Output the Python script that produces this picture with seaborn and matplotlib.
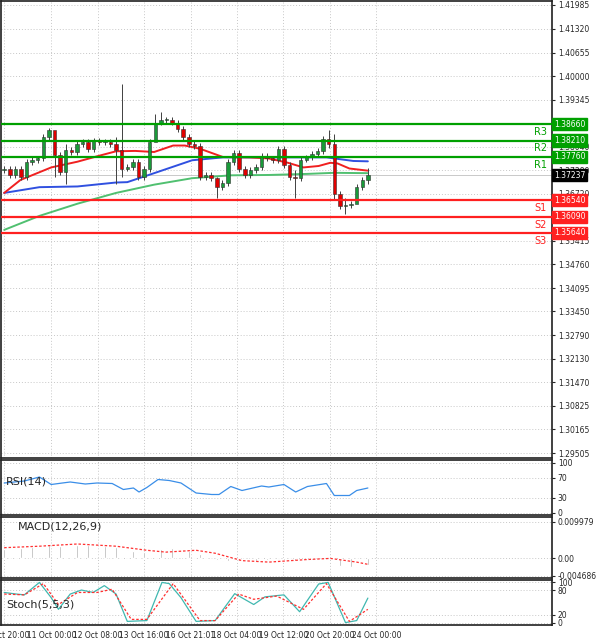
import numpy as np
import pandas as pd
import matplotlib
matplotlib.use("Agg")
import matplotlib.pyplot as plt
import seaborn as sns

# candle closes (open = previous close)
closes = [1.3743, 1.3725, 1.3743, 1.3720, 1.3762, 1.3766, 1.3771, 1.3830, 1.3849, 1.3780,
          1.3734, 1.3794, 1.3789, 1.3812, 1.3817, 1.3798, 1.3821, 1.3817, 1.3817, 1.3812,
          1.3794, 1.3743, 1.3748, 1.3762, 1.3720, 1.3741, 1.3818, 1.3871, 1.3878, 1.3878,
          1.3871, 1.3853, 1.3830, 1.3812, 1.3805, 1.3720, 1.3725, 1.3716, 1.3691, 1.3702,
          1.3762, 1.3786, 1.3741, 1.3725, 1.3739, 1.3748, 1.3777, 1.3771, 1.3766, 1.3798,
          1.3753, 1.3720, 1.3716, 1.3768, 1.3774, 1.3783, 1.3792, 1.3826, 1.3812, 1.3672,
          1.3638, 1.3640, 1.3645, 1.3691, 1.3710, 1.37237]
first_open = 1.3738
# wick overrides (candle index: (high, low))
wicks = {21: (1.3978, 1.3720), 27: (1.3895, 1.3850), 28: (1.3900, 1.3865), 20: (1.3830, 1.3700),
         38: (1.3720, 1.3660), 52: (1.3740, 1.3660), 58: (1.3850, 1.3800), 59: (1.3840, 1.3655),
         61: (1.3660, 1.3615), 63: (1.3700, 1.3665), 65: (1.3745, 1.3700), 9: (1.3810, 1.3720),
         11: (1.3810, 1.3700)}

# moving averages (candle index, price)
ma_red_x = [0, 2.9, 8.4, 13.1, 16.6, 20, 23.4, 26.8, 30.2, 32.3, 35, 39.1, 43.9, 47.3, 50.7, 53.5, 56.2, 58.3, 59.6, 61.7, 65]
ma_red_y = [1.3675, 1.3711, 1.3746, 1.3762, 1.3777, 1.3791, 1.3792, 1.3789, 1.3807, 1.3807, 1.3798, 1.3775,
            1.3774, 1.3771, 1.3759, 1.3746, 1.3750, 1.3759, 1.3757, 1.3743, 1.3737]
ma_blue_x = [0, 6.3, 13.1, 20, 22, 26.8, 33.6, 39.1, 47.3, 57.6, 62.4, 65]
ma_blue_y = [1.3675, 1.3691, 1.3693, 1.3704, 1.3705, 1.3730, 1.3766, 1.3774, 1.3774, 1.3774, 1.3764, 1.3763]
ma_green_x = [0, 6.3, 13.1, 20, 26.8, 33.6, 40.5, 47.3, 54.2, 59, 65]
ma_green_y = [1.3572, 1.3611, 1.3645, 1.3675, 1.3698, 1.3716, 1.3724, 1.3725, 1.3728, 1.3731, 1.3730]

levels = [("R3", 1.38660, "#00a000"), ("R2", 1.38210, "#00a000"), ("R1", 1.37760, "#00a000"),
          ("S1", 1.36540, "#ff2020"), ("S2", 1.36090, "#ff2020"), ("S3", 1.35640, "#ff2020")]
last_price = 1.37237

main_ticks = [1.41985, 1.41320, 1.40655, 1.40000, 1.39345, 1.38040, 1.37380, 1.36720, 1.35415, 1.34760,
              1.34095, 1.33450, 1.32790, 1.32130, 1.31470, 1.30825, 1.30165, 1.29505]

rsi_x = [0, 3.6, 6.3, 8.4, 10.4, 11.8, 14.5, 16.6, 19.3, 21.3, 23.1, 24.1, 25.5, 27.5, 29.5, 31.6, 34.3,
         37.1, 38.4, 40.5, 42.5, 46, 47.3, 50, 52.1, 54.2, 57.6, 59, 61.7, 63, 65]
rsi_y = [59, 63, 71, 56, 59, 61, 57, 59, 58, 46, 49, 41, 50, 66, 64, 59, 39, 36, 36, 52, 44, 53, 51, 56, 41,
         52, 58, 34, 34, 44, 49]

macd_sig_x = [0, 6.3, 13.1, 20, 25.5, 28.9, 34.3, 37.7, 42.5, 47.3, 54.2, 58.3, 63, 65]
macd_sig_y = [0.0029, 0.0033, 0.0039, 0.0033, 0.0022, 0.0017, 0.0022, 0.0014, -0.0006, -0.0010, -0.0003,
              0.0000, -0.0010, -0.0016]
macd_hist = [0.0025, 0.0027, 0.0028, 0.0029, 0.0030, 0.0031, 0.0032, 0.0034, 0.0036, 0.0035,
             0.0034, 0.0034, 0.0035, 0.0036, 0.0036, 0.0035, 0.0034, 0.0034, 0.0033, 0.0032,
             0.0030, 0.0026, 0.0023, 0.0021, 0.0017, 0.0016, 0.0019, 0.0024, 0.0026, 0.0027,
             0.0027, 0.0026, 0.0024, 0.0021, 0.0018, 0.0011, 0.0006, 0.0002, -0.0004, -0.0007,
             -0.0006, -0.0004, -0.0006, -0.0007, -0.0007, -0.0006, -0.0004, -0.0004, -0.0004, -0.0002,
             -0.0003, -0.0006, -0.0007, -0.0005, -0.0004, -0.0003, -0.0002, 0.0000, 0.0000, -0.0012,
             -0.0020, -0.0023, -0.0024, -0.0022, -0.0020, -0.0018]

stk_x = [0, 2.2, 3.6, 6.3, 8.4, 9.7, 11.8, 13.8, 15.9, 17.9, 20, 22, 25.5, 28.2, 29.5, 31.6, 34.3, 37.7,
         41.2, 44.6, 46.6, 50, 52.8, 56.2, 57.9, 61, 63, 65]
stk_y = [75, 71, 69, 100, 62, 33, 71, 81, 75, 92, 71, 3, 5, 100, 97, 62, 3, 5, 72, 45, 64, 69, 27, 96, 100,
         0, 5, 61]
sig_x = [0, 3.6, 7, 9.7, 13.1, 16.6, 19.3, 22.7, 25.5, 30.2, 35, 37.7, 41.9, 44.6, 48.7, 53.5, 57.6, 61.7, 65]
sig_y = [71, 69, 97, 45, 75, 75, 83, 8, 8, 97, 5, 5, 71, 58, 66, 33, 97, 3, 33]

xtick_pos = [0, 8.4, 16.7, 25, 33.3, 41.6, 49.9, 58.2, 66.5]
xtick_lab = ["10 Oct 20:00", "11 Oct 00:00", "12 Oct 08:00", "13 Oct 16:00", "16 Oct 21:01",
             "18 Oct 04:00", "19 Oct 12:00", "20 Oct 20:00", "24 Oct 00:00"]

sns.set_style("white")
W, H = 600, 641
fig = plt.figure(figsize=(W / 100, H / 100), dpi=100)
fig.patch.set_facecolor("white")

n = len(closes)
sp = 365 / (n - 1)
xl = (-3 / sp, (553 - 3) / sp)
grid_kw = dict(color="#c8c8c8", linestyle=(0, (1, 2)), linewidth=0.7)
fs = 5.5


def panel(top, bottom):
    ax = fig.add_axes([0.002, 1 - bottom / H, 551 / W, (bottom - top) / H])
    ax.set_xlim(*xl)
    ax.yaxis.tick_right()
    ax.tick_params(axis="y", labelsize=fs, length=2, pad=2)
    ax.set_xticks(xtick_pos)
    ax.set_xticklabels([])
    ax.tick_params(axis="x", length=2)
    for s in ax.spines.values():
        s.set_color("#202020")
        s.set_linewidth(1.2)
    ax.grid(True, **grid_kw)
    return ax


# main chart
ax = panel(1, 458)
ax.set_ylim(1.29366, 1.42096)
ax.set_yticks(main_ticks)
ax.set_yticklabels([f"{t:.5f}" for t in main_ticks])
opens = [first_open] + closes[:-1]
for i, (o, c) in enumerate(zip(opens, closes)):
    hi, lo = wicks.get(i, (max(o, c) + 0.0008, min(o, c) - 0.0008))
    col = "#1a9a3a" if c >= o else "#e00000"
    ax.vlines(i, lo, hi, color="#404040", linewidth=0.7, zorder=3)
    ax.bar(i, max(abs(c - o), 0.0002), bottom=min(o, c), width=0.62, color=col,
           edgecolor="#303030", linewidth=0.4, zorder=4)
sns.lineplot(x=ma_green_x, y=ma_green_y, ax=ax, color="#50c070", linewidth=1.4, zorder=2)
sns.lineplot(x=ma_blue_x, y=ma_blue_y, ax=ax, color="#3050e0", linewidth=1.4, zorder=2)
sns.lineplot(x=ma_red_x, y=ma_red_y, ax=ax, color="#f02020", linewidth=1.4, zorder=2)
ax.axhline(last_price, color="#c0c0c0", linewidth=0.6, zorder=1)
for name, val, col in levels:
    ax.axhline(val, color=col, linewidth=1.6, zorder=5)
    ax.text(1.003, val, f"{val:.5f}", transform=ax.get_yaxis_transform(), fontsize=fs, color="white",
            va="center", ha="left", bbox=dict(boxstyle="square,pad=0.2", fc=col, ec=col), zorder=6,
            clip_on=False)
    ax.text(48.4 * 1.98, val - 0.0022, name, fontsize=7, color=col, ha="center", va="center")
ax.text(1.003, last_price, f"{last_price:.5f}", transform=ax.get_yaxis_transform(), fontsize=fs,
        color="white", va="center", ha="left", bbox=dict(boxstyle="square,pad=0.2", fc="black", ec="black"),
        clip_on=False)

# RSI
ax1 = panel(460, 515)
ax1.set_ylim(-5, 105)
ax1.set_yticks([0, 30, 70, 100])
sns.lineplot(x=rsi_x, y=rsi_y, ax=ax1, color="#3a8ee8", linewidth=0.9)
ax1.text(0.3, 63, "RSI(14)", fontsize=8, va="center")

# MACD
ax2 = panel(517, 578)
ax2.set_ylim(-0.0053, 0.0112)
ax2.set_yticks([0.009979, 0.0, -0.004686])
ax2.set_yticklabels(["0.009979", "0.00", "-0.004686"])
ax2.bar(range(n), macd_hist, width=0.25, color="#a8a8a8")
ax2.plot(macd_sig_x, macd_sig_y, color="#ff3030", linewidth=0.9, linestyle=(0, (2, 1.5)))
ax2.text(2.5, 0.0085, "MACD(12,26,9)", fontsize=8, va="center")

# Stochastic
ax3 = panel(580, 625)
ax3.set_ylim(-6, 106)
ax3.set_yticks([0, 20, 80, 100])
sns.lineplot(x=stk_x, y=stk_y, ax=ax3, color="#40b8b0", linewidth=0.9)
ax3.plot(sig_x, sig_y, color="#ff3030", linewidth=0.9, linestyle=(0, (2, 1.5)))
ax3.text(0.3, 45, "Stoch(5,5,3)", fontsize=8, va="center")
ax3.set_xticklabels(xtick_lab, fontsize=5.5)
ax3.tick_params(axis="x", pad=2)

fig.savefig("out.png", dpi=100)
